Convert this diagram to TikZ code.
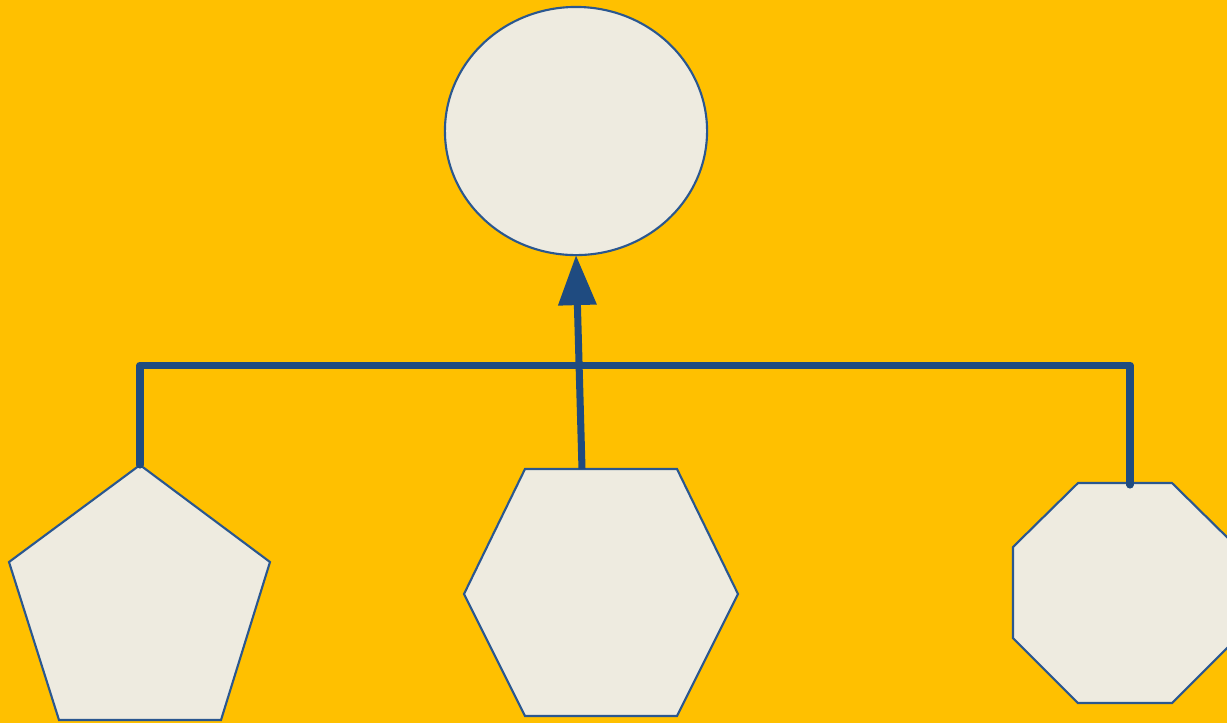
\documentclass[tikz,border=0pt]{standalone}
\usetikzlibrary{shapes.geometric,arrows.meta}
\definecolor{bg}{HTML}{FFC000}
\definecolor{shapefill}{HTML}{EEEBE0}
\definecolor{edge}{HTML}{2A5790}
\definecolor{conn}{HTML}{1F4B80}
\tikzset{
  shp/.style={draw=edge, fill=shapefill, line width=0.6pt, inner sep=0pt, outer sep=0pt},
  wire/.style={draw=conn, line width=2pt, line join=round, line cap=round},
}
\begin{document}
\begin{tikzpicture}[x=0.01cm,y=-0.01cm]
\fill[bg] (0,0) rectangle (1227,723);
\useasboundingbox (0,0) rectangle (1227,723);
\begin{scope}
\clip (0,0) rectangle (1227,723);
% ellipse
\node[shp, ellipse, minimum width=2.62cm, minimum height=2.48cm] (top) at (576,131) {};
% pentagon
\draw[shp] (140,465) -- (270,562) -- (221,720) -- (59,720) -- (9,562) -- cycle;
\coordinate (pent) at (140,465);
% hexagon
\draw[shp] (525,469) -- (677,469) -- (738,594) -- (677,716) -- (525,716) -- (464,594) -- cycle;
\coordinate (hex) at (582,469);
% octagon
\draw[shp] (1078,483) -- (1172,483) -- (1237,547) -- (1237,638) -- (1172,703) -- (1078,703) -- (1013,638) -- (1013,547) -- cycle;
\coordinate (octtop) at (1130,485);
\end{scope}
\coordinate (busR) at (1130,365);
% connectors
\draw[wire] (pent) |- (busR) -- (octtop);
\draw[wire, line cap=butt, -{Triangle[length=0.5cm,width=0.37cm]}] (hex) -- (top.south);
\end{tikzpicture}
\end{document}
